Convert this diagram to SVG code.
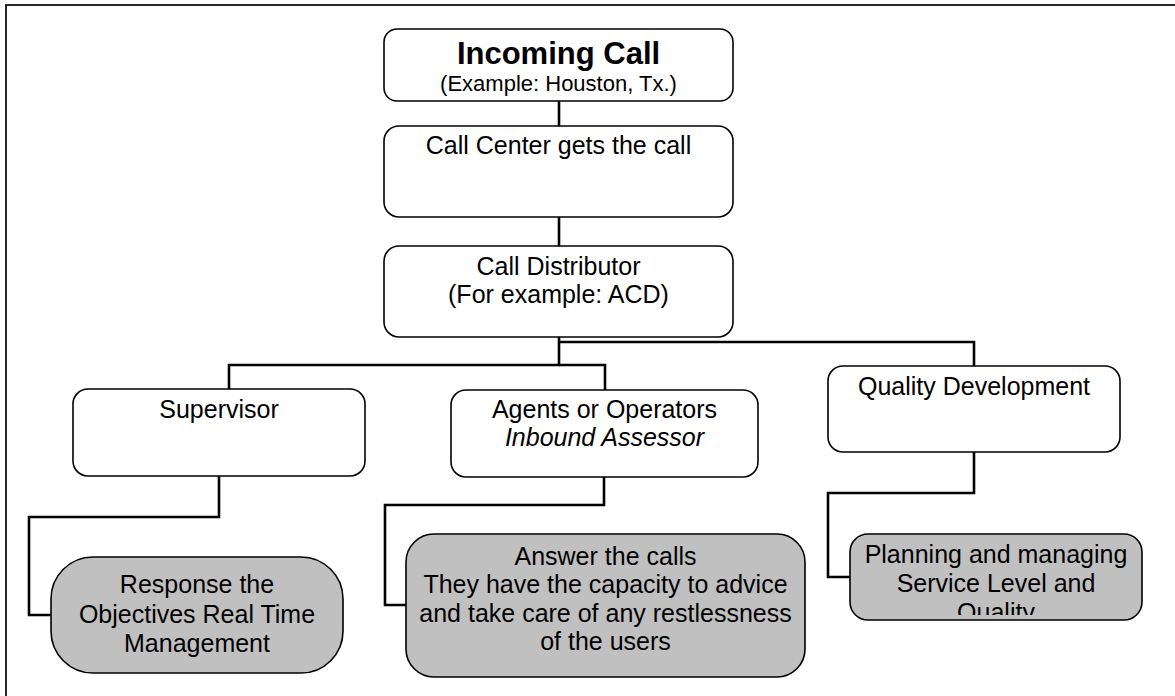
<svg xmlns="http://www.w3.org/2000/svg" width="1175" height="696" viewBox="0 0 1175 696">
  <style>
    .box { fill: #ffffff; stroke: #000000; stroke-width: 1.6; }
    .task { fill: #c0c0c0; stroke: #000000; stroke-width: 1.6; }
    .link { fill: none; stroke: #000000; stroke-width: 2.6; }
    text { font-family: "Liberation Sans", Arial, sans-serif; fill: #000000; text-anchor: middle; }
    .lbl { font-size: 25px; }
    .title { font-size: 31px; font-weight: bold; }
    .sub { font-size: 22px; }
    .it { font-style: italic; }
  </style>
  <defs>
    <clipPath id="planClip">
      <rect x="850" y="534" width="292" height="81"/>
    </clipPath>
  </defs>

  <rect width="1175" height="696" fill="#ffffff"/>
  <!-- page frame -->
  <rect x="6" y="5" width="1190" height="720" fill="none" stroke="#111111" stroke-width="1.8"/>

  <!-- connectors -->
  <g id="connectors">
    <path class="link" d="M559,101 V126"/>
    <path class="link" d="M559,217 V246"/>
    <path class="link" d="M559,337 V365 H229 V389"/>
    <path class="link" d="M559,365 H605 V390"/>
    <path class="link" d="M559,342 H974 V366"/>
    <path class="link" d="M219,476 V517 H29 V615 H51"/>
    <path class="link" d="M604,477 V505 H385 V605 H406"/>
    <path class="link" d="M974,452 V493 H828 V577 H850"/>
  </g>

  <g id="incoming-call">
    <rect class="box" x="384" y="29" width="349" height="72" rx="13"/>
    <text class="title" x="558.5" y="64">Incoming Call</text>
    <text class="sub" x="558.5" y="91">(Example: Houston, Tx.)</text>
  </g>

  <g id="call-center">
    <rect class="box" x="384" y="126" width="349" height="91" rx="15"/>
    <text class="lbl" x="558.5" y="154">Call Center gets the call</text>
  </g>

  <g id="call-distributor">
    <rect class="box" x="384" y="246" width="349" height="91" rx="15"/>
    <text class="lbl" x="558.5" y="275">Call Distributor</text>
    <text class="lbl" x="558.5" y="303">(For example: ACD)</text>
  </g>

  <g id="supervisor">
    <rect class="box" x="73" y="389" width="292" height="87" rx="15"/>
    <text class="lbl" x="219" y="418">Supervisor</text>
  </g>

  <g id="agents">
    <rect class="box" x="451" y="390" width="307" height="87" rx="15"/>
    <text class="lbl" x="604.5" y="418">Agents or Operators</text>
    <text class="lbl it" x="604.5" y="446">Inbound Assessor</text>
  </g>

  <g id="quality-development">
    <rect class="box" x="828" y="366" width="292" height="86" rx="15"/>
    <text class="lbl" x="974" y="395">Quality Development</text>
  </g>

  <g id="response">
    <rect class="task" x="51" y="557" width="292" height="116" rx="42"/>
    <text class="lbl" x="197" y="593">Response the</text>
    <text class="lbl" x="197" y="623">Objectives Real Time</text>
    <text class="lbl" x="197" y="652">Management</text>
  </g>

  <g id="answer-calls">
    <rect class="task" x="406" y="534" width="399" height="143" rx="28"/>
    <text class="lbl" x="605.5" y="565">Answer the calls</text>
    <text class="lbl" x="605.5" y="593">They have the capacity to advice</text>
    <text class="lbl" x="605.5" y="622">and take care of any restlessness</text>
    <text class="lbl" x="605.5" y="650">of the users</text>
  </g>

  <g id="planning">
    <rect class="task" x="850" y="534" width="292" height="86" rx="18"/>
    <g clip-path="url(#planClip)">
      <text class="lbl" x="996" y="563">Planning and managing</text>
      <text class="lbl" x="996" y="592">Service Level and</text>
      <text class="lbl" x="996" y="621">Quality</text>
    </g>
  </g>
</svg>
